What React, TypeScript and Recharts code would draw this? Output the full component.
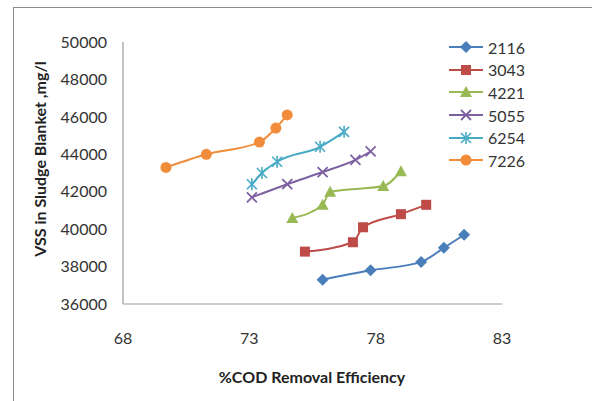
import { LineChart, Line, XAxis, YAxis } from 'recharts'

// %COD removal efficiency (x) and VSS in sludge blanket (y), one pair per loading
const cod2116 = [75.9, 77.8, 79.8, 80.7, 81.5]
const vss2116 = [37300, 37800, 38250, 39000, 39700]
const cod3043 = [75.2, 77.1, 77.5, 79.0, 80.0]
const vss3043 = [38800, 39300, 40100, 40800, 41300]
const cod4221 = [74.7, 75.9, 76.2, 78.3, 79.0]
const vss4221 = [40600, 41300, 42000, 42300, 43100]
const cod5055 = [73.1, 74.5, 75.9, 77.2, 77.8]
const vss5055 = [41700, 42400, 43050, 43700, 44150]
const cod6254 = [73.1, 73.5, 74.1, 75.8, 76.75]
const vss6254 = [42400, 43000, 43600, 44400, 45200]
const cod7226 = [69.7, 71.3, 73.4, 74.05, 74.5]
const vss7226 = [43300, 44000, 44650, 45400, 46100]

const seriesNames = ['2116', '3043', '4221', '5055', '6254', '7226']
const xTicks = [68, 73, 78, 83]
const yTicks = [36000, 38000, 40000, 42000, 44000, 46000, 48000, 50000]

const colors = ['#4A7EBB', '#BE4B48', '#98B954', '#7D60A0', '#46AAC5', '#F08C3A']
const shapes = ['diamond', 'square', 'triangle', 'x', 'star', 'circle']

const pairs = [
  [cod2116, vss2116],
  [cod3043, vss3043],
  [cod4221, vss4221],
  [cod5055, vss5055],
  [cod6254, vss6254],
  [cod7226, vss7226],
]

const series = seriesNames.map((name, i) => ({
  name,
  color: colors[i],
  shape: shapes[i],
  data: pairs[i][0].map((x, j) => ({ x, y: pairs[i][1][j] })),
}))

function Marker({ cx, cy, shape, color }: { cx: number, cy: number, shape: string, color: string }) {
  if (shape === 'diamond')
    return <polygon points={`${cx},${cy - 6} ${cx + 6},${cy} ${cx},${cy + 6} ${cx - 6},${cy}`} fill={color} />
  if (shape === 'square')
    return <rect x={cx - 5} y={cy - 5} width={10} height={10} fill={color} />
  if (shape === 'triangle')
    return <polygon points={`${cx},${cy - 6} ${cx + 6},${cy + 5} ${cx - 6},${cy + 5}`} fill={color} />
  if (shape === 'x')
    return (
      <g stroke={color} strokeWidth={1.8}>
        <line x1={cx - 5} y1={cy - 5} x2={cx + 5} y2={cy + 5} />
        <line x1={cx - 5} y1={cy + 5} x2={cx + 5} y2={cy - 5} />
      </g>
    )
  if (shape === 'star')
    return (
      <g stroke={color} strokeWidth={1.6}>
        <line x1={cx - 5} y1={cy - 5} x2={cx + 5} y2={cy + 5} />
        <line x1={cx - 5} y1={cy + 5} x2={cx + 5} y2={cy - 5} />
        <line x1={cx} y1={cy - 6} x2={cx} y2={cy + 6} />
      </g>
    )
  return <circle cx={cx} cy={cy} r={5.5} fill={color} />
}

const font = 'Lato, "Liberation Sans", sans-serif'

export default function App() {
  return (
    <div style={{ position: 'absolute', left: 0, top: 0, width: 592, height: 401, background: '#fff', fontFamily: font }}>
      <div style={{ position: 'absolute', left: 13, top: 7, width: 620, height: 420, borderLeft: '1.5px solid #8c8c8c', borderTop: '1.5px solid #8c8c8c' }} />
      <LineChart width={592} height={401} margin={{ top: 42, right: 90, left: 63, bottom: 67 }}>
        <XAxis
          type="number"
          dataKey="x"
          domain={[68, 83]}
          ticks={xTicks}
          height={30}
          tickLine={false}
          tickSize={0}
          tickMargin={29}
          axisLine={{ stroke: '#9a9a9a', strokeWidth: 1.2 }}
          tick={{ fill: '#333', fontSize: 16, fontFamily: font }}
          allowDataOverflow
        />
        <YAxis
          type="number"
          dataKey="y"
          domain={[36000, 50000]}
          ticks={yTicks}
          width={60}
          tickLine={false}
          tickSize={0}
          tickMargin={16}
          axisLine={{ stroke: '#9a9a9a', strokeWidth: 1.2 }}
          tick={{ fill: '#333', fontSize: 16, fontFamily: font }}
          allowDataOverflow
        />
        {series.map(s => (
          <Line
            key={s.name}
            data={s.data}
            dataKey="y"
            name={s.name}
            type="monotone"
            stroke={s.color}
            strokeWidth={2}
            isAnimationActive={false}
            activeDot={false}
            dot={(p: any) => <Marker key={`${s.name}-${p.index}`} cx={p.cx} cy={p.cy} shape={s.shape} color={s.color} />}
          />
        ))}
      </LineChart>
      <div style={{ position: 'absolute', left: 449, top: 36, fontSize: 16, color: '#333' }}>
        {series.map(s => (
          <div key={s.name} style={{ display: 'flex', alignItems: 'center', height: 22.6 }}>
            <svg width={36} height={16} style={{ marginRight: 3 }}>
              <line x1={0} y1={8} x2={34} y2={8} stroke={s.color} strokeWidth={2} />
              <Marker cx={17} cy={8} shape={s.shape} color={s.color} />
            </svg>
            <span>{s.name}</span>
          </div>
        ))}
      </div>
      <div style={{ position: 'absolute', left: 0, width: 624, top: 367, textAlign: 'center', fontWeight: 'bold', fontSize: 16, color: '#222' }}>
        %COD Removal Efficiency
      </div>
      <div style={{ position: 'absolute', left: 40, top: 159, width: 0, height: 0 }}>
        <div style={{ position: 'absolute', left: -150, top: -11, width: 300, textAlign: 'center', transform: 'rotate(-90deg)', fontWeight: 'bold', fontSize: 16, color: '#222', lineHeight: '22px' }}>
          VSS in Sludge Blanket ,mg/l
        </div>
      </div>
    </div>
  )
}
